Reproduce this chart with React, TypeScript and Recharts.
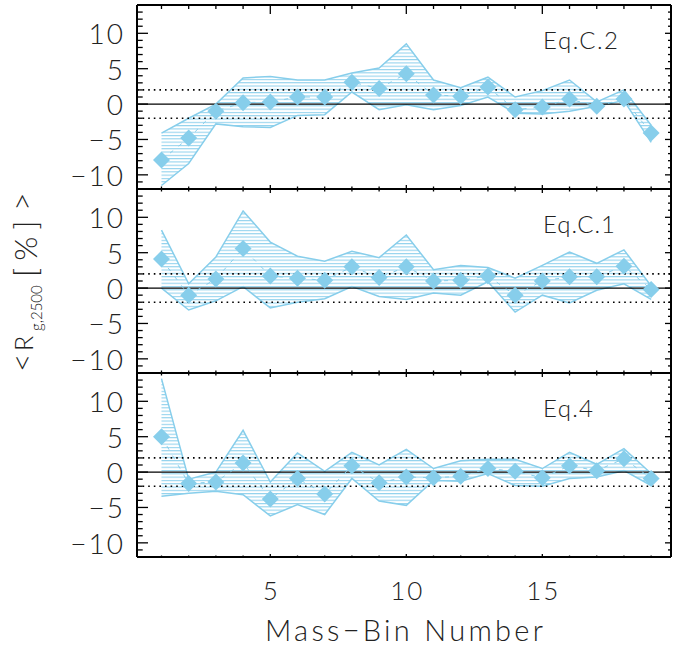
import React from 'react';
import { ComposedChart, Area, Line, XAxis, YAxis, ReferenceLine } from 'recharts';

// ---------- data ----------
const bins = [1, 2, 3, 4, 5, 6, 7, 8, 9, 10, 11, 12, 13, 14, 15, 16, 17, 18, 19];

const eqC2Mean = [-7.9, -4.8, -1.0, 0.2, 0.3, 1.0, 1.0, 3.1, 2.2, 4.3, 1.3, 1.1, 2.4, -0.8, -0.4, 0.7, -0.3, 0.7, -4.1];
const eqC2High = [-4.1, -2.0, 0.0, 3.7, 3.9, 3.4, 3.4, 4.4, 5.1, 8.5, 3.4, 2.3, 3.8, 1.0, 1.9, 3.4, 0.3, 2.0, -3.0];
const eqC2Low = [-11.5, -8.4, -2.8, -3.2, -3.3, -1.6, -1.5, 1.7, -0.8, -0.1, -0.8, -0.2, 1.0, -1.3, -1.4, -1.0, -0.3, 0.5, -5.4];

const eqC1Mean = [4.1, -1.0, 1.3, 5.6, 1.7, 1.4, 1.1, 3.0, 1.5, 3.0, 1.0, 1.1, 1.7, -1.0, 1.0, 1.6, 1.6, 3.1, -0.2];
const eqC1High = [8.2, 0.6, 4.4, 10.9, 6.5, 4.5, 3.8, 5.2, 4.3, 7.5, 2.6, 3.2, 2.9, 1.4, 3.2, 5.1, 3.5, 5.4, 0.3];
const eqC1Low = [0.0, -3.1, -1.8, 0.2, -2.8, -2.0, -1.5, 0.2, -1.2, -1.6, -0.7, -1.0, 0.9, -3.4, -1.0, -2.1, -0.3, 0.6, -1.6];

const eq4Mean = [5.0, -1.6, -1.4, 1.3, -3.8, -0.9, -3.1, 0.9, -1.5, -0.7, -0.8, -0.6, 0.5, 0.1, -0.8, 0.9, 0.2, 1.9, -0.9];
const eq4High = [13.2, -1.0, 0.0, 5.9, -1.4, 2.7, 0.1, 2.8, 1.0, 3.2, 0.5, 1.6, 1.8, 1.8, 0.5, 2.8, 1.1, 3.3, -0.2];
const eq4Low = [-3.4, -3.0, -2.7, -3.2, -6.2, -4.6, -6.0, -0.9, -4.1, -4.7, -1.2, -1.3, -0.2, -1.9, -2.0, -0.9, -0.7, 0.2, -1.9];

const panelLabels = ['Eq.C.2', 'Eq.C.1', 'Eq.4'];
const yMajorTicks = [-10, -5, 0, 5, 10];
const yAllTicks = [-12, -11, -10, -9, -8, -7, -6, -5, -4, -3, -2, -1, 0, 1, 2, 3, 4, 5, 6, 7, 8, 9, 10, 11, 12, 13, 14];
const xMajorTicks = [5, 10, 15];
const xAllTicks = bins;
const sigmaBand = [-2, 2];
const xTitle = 'Mass\u2212Bin Number';

// ---------- style ----------
const BLUE = '#87CEEB';
const FONT = "Lato, 'Open Sans', Roboto, sans-serif";
const TXT = '#222';
const X_DOMAIN: [number, number] = [0.1, 19.73];
const Y_DOMAIN: [number, number] = [-12, 14];
const PLOT_H = 184;
const PANEL_TOPS = [5, 189, 373];
const TICK_W = 1.3;

const build = (mean: number[], low: number[], high: number[]) =>
  bins.map((b, i) => ({ bin: b, mean: mean[i], band: [low[i], high[i]] }));

const panels = [
  build(eqC2Mean, eqC2Low, eqC2High),
  build(eqC1Mean, eqC1Low, eqC1High),
  build(eq4Mean, eq4Low, eq4High),
];

const fmt = (v: number) => (v < 0 ? '\u2212' + Math.abs(v) : String(v));

// Left axis: labels outside, tick marks inward
const LeftTick = (props: any) => {
  const { x, y, payload } = props;
  const v = payload.value;
  const major = yMajorTicks.includes(v);
  return (
    <g>
      <line x1={x} x2={x + (major ? 11 : 5.7)} y1={y} y2={y} stroke="#000" strokeWidth={TICK_W} />
      {major && (
        <text x={x - 12} y={y} dy={11} textAnchor="end" fontFamily={FONT} fontWeight={300} fontSize={28} letterSpacing={2} fill={TXT}>
          {fmt(v)}
        </text>
      )}
    </g>
  );
};

const RightTick = (props: any) => {
  const { x, y, payload } = props;
  const major = yMajorTicks.includes(payload.value);
  return <line x1={x} x2={x - (major ? 6 : 3)} y1={y} y2={y} stroke="#000" strokeWidth={TICK_W} />;
};

const makeTopTick = (majLen: number, minLen: number) => (props: any) => {
  const { x, y, payload } = props;
  const major = xMajorTicks.includes(payload.value);
  return <line x1={x} x2={x} y1={y} y2={y + (major ? majLen : minLen)} stroke="#000" strokeWidth={TICK_W} />;
};

const makeBottomTick = (majLen: number, minLen: number, labels: boolean) => (props: any) => {
  const { x, y, payload } = props;
  const v = payload.value;
  const major = xMajorTicks.includes(v);
  return (
    <g>
      <line x1={x} x2={x} y1={y} y2={y - (major ? majLen : minLen)} stroke="#000" strokeWidth={TICK_W} />
      {labels && major && (
        <text x={x + 1} y={y} dy={43} textAnchor="middle" fontFamily={FONT} fontWeight={300} fontSize={26} letterSpacing={2} fill={TXT}>
          {fmt(v)}
        </text>
      )}
    </g>
  );
};

const Diamond = (props: any) => {
  const { cx, cy, index } = props;
  if (cx == null || cy == null) return <g key={'d' + index} />;
  const r = 8.5;
  return (
    <polygon
      key={'d' + index}
      points={`${cx},${cy - r} ${cx + r},${cy} ${cx},${cy + r} ${cx - r},${cy}`}
      fill={BLUE}
      stroke="none"
    />
  );
};

const AXIS_LINE = { stroke: '#000', strokeWidth: 2 };

function Panel({ idx }: { idx: number }) {
  const data = panels[idx];
  const last = idx === 2;
  const first = idx === 0;
  const bottomExtra = last ? 60 : 2;
  const height = PLOT_H + 2 + bottomExtra;
  const TopTick = makeTopTick(first ? 9 : 4, first ? 4 : 2.5);
  const BottomTick = makeBottomTick(last ? 3 : 4, last ? 1.5 : 2.5, last);
  return (
    <div style={{ position: 'absolute', left: 0, top: PANEL_TOPS[idx] - 2 }}>
      <ComposedChart
        width={673}
        height={height}
        data={data}
        margin={{ top: 2, right: 2, bottom: bottomExtra, left: 77 }}
      >
        <XAxis xAxisId="xb" dataKey="bin" type="number" domain={X_DOMAIN} allowDataOverflow orientation="bottom" mirror height={1}
          ticks={xAllTicks} interval={0} tick={<BottomTick />} tickSize={0} tickMargin={0} tickLine={false} axisLine={AXIS_LINE} />
        <XAxis xAxisId="xt" dataKey="bin" type="number" domain={X_DOMAIN} allowDataOverflow orientation="top" mirror height={1}
          ticks={xAllTicks} interval={0} tick={<TopTick />} tickSize={0} tickMargin={0} tickLine={false} axisLine={AXIS_LINE} />
        <YAxis yAxisId="yl" type="number" domain={Y_DOMAIN} allowDataOverflow orientation="left" width={60}
          ticks={yAllTicks} interval={0} tick={<LeftTick />} tickSize={0} tickMargin={0} tickLine={false} axisLine={AXIS_LINE} />
        <YAxis yAxisId="yr" type="number" domain={Y_DOMAIN} allowDataOverflow orientation="right" mirror width={1}
          ticks={yAllTicks} interval={0} tick={<RightTick />} tickSize={0} tickMargin={0} tickLine={false} axisLine={AXIS_LINE} />

        <Area xAxisId="xb" yAxisId="yl" type="linear" dataKey="band" stroke={BLUE} strokeWidth={1.5}
          fill="url(#hatch)" fillOpacity={1} isAnimationActive={false} activeDot={false} dot={false} />
        <ReferenceLine xAxisId="xb" yAxisId="yl" y={0} stroke="#000" strokeWidth={1.2} />
        {sigmaBand.map((v) => (
          <ReferenceLine key={v} xAxisId="xb" yAxisId="yl" y={v} stroke="#000" strokeWidth={1.6} strokeDasharray="1.6 4" />
        ))}
        <Line xAxisId="xb" yAxisId="yl" type="linear" dataKey="mean" stroke={BLUE} strokeWidth={1}
          strokeDasharray="4 7" dot={Diamond} activeDot={false} isAnimationActive={false} />
      </ComposedChart>
    </div>
  );
}

export default function App() {
  return (
    <div style={{ position: 'relative', width: 673, height: 652, background: '#fff' }}>
      <style>{`body{margin:0;background:#fff}`}</style>
      <svg width={0} height={0} style={{ position: 'absolute' }}>
        <defs>
          <pattern id="hatch" patternUnits="userSpaceOnUse" width={10} height={3.3}>
            <rect x={0} y={0} width={10} height={3.3} fill="#fff" />
            <rect x={0} y={0} width={10} height={1.1} fill={BLUE} fillOpacity={0.9} />
          </pattern>
        </defs>
      </svg>
      {[0, 1, 2].map((i) => (
        <Panel key={i} idx={i} />
      ))}
      <svg width={673} height={652} style={{ position: 'absolute', left: 0, top: 0, pointerEvents: 'none' }}>
        {panelLabels.map((t, i) => (
          <text key={t} x={543} y={PANEL_TOPS[i] + 43.5} fontFamily={FONT} fontWeight={300} fontSize={24} fill={TXT}
            textLength={[75, 72, 50][i]} lengthAdjust="spacing">
            {t}
          </text>
        ))}
        <text x={404} y={641} textAnchor="middle" fontFamily={FONT} fontWeight={300} fontSize={29} fill={TXT}
          textLength={278} lengthAdjust="spacing">
          {xTitle}
        </text>
        <g transform="translate(33,372) rotate(-90)">
          <text fontFamily={FONT} fontWeight={300} fill={TXT}>
            <tspan x={0} y={0} fontSize={32}>{'<'}</tspan>
            <tspan x={21} y={0} fontSize={25}>R</tspan>
            <tspan x={41} y={9} fontSize={15}>g,2500</tspan>
            <tspan x={95} y={4} fontSize={31} letterSpacing={7}>[%]</tspan>
            <tspan x={161} y={0} fontSize={32}>{'>'}</tspan>
          </text>
        </g>
      </svg>
    </div>
  );
}
